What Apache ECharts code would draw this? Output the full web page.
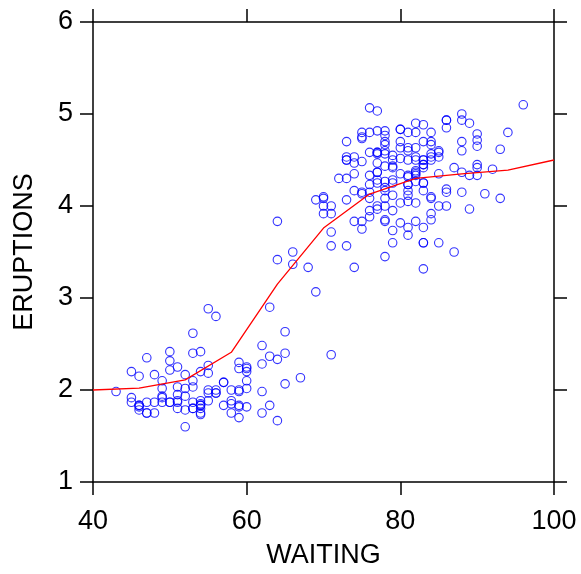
<!DOCTYPE html>
<html>
<head>
<meta charset="utf-8">
<script src="https://cdn.jsdelivr.net/npm/echarts@6/dist/echarts.min.js"></script>
<style>
  html, body { margin: 0; padding: 0; background: #fff; }
  #chart { width: 581px; height: 574px; }
</style>
</head>
<body>
<div id="chart"></div>
<script>
// Old Faithful: waiting time (min) and eruption duration (min)
var waiting = [79,54,74,62,85,55,88,85,51,85,54,84,78,47,83,52,62,84,52,79,51,47,78,69,
  74,83,55,76,78,79,73,77,66,80,74,52,48,80,59,90,80,58,84,58,73,83,64,53,
  82,59,75,90,54,80,54,83,71,64,77,81,59,84,48,82,60,92,78,78,65,73,82,56,
  79,71,62,76,60,78,76,83,75,82,70,65,73,88,76,80,48,86,60,90,50,78,63,72,
  84,75,51,82,62,88,49,83,81,47,84,52,86,81,75,59,89,79,59,81,50,85,59,87,
  53,69,77,56,88,81,45,82,55,90,45,83,56,89,46,82,51,86,53,79,81,60,82,77,
  76,59,80,49,96,53,77,77,65,81,71,70,81,93,53,89,45,86,58,78,66,76,63,88,
  52,93,49,57,77,68,81,81,73,50,85,74,55,77,83,83,51,78,84,46,83,55,81,57,
  76,84,77,81,87,77,51,78,60,82,91,53,78,46,77,84,49,83,71,80,49,75,64,76,
  53,94,55,76,50,82,54,75,78,79,78,78,70,79,70,54,86,50,90,54,54,77,79,64,
  75,47,86,63,85,82,57,82,67,74,54,83,73,73,88,80,71,83,56,79,78,84,58,83,
  43,60,75,81,46,90,46,74];

var eruptions = [3.600,1.800,3.333,2.283,4.533,2.883,4.700,3.600,1.950,4.350,1.833,3.917,
  4.200,1.750,4.700,2.167,1.750,4.800,1.600,4.250,1.800,1.750,3.450,3.067,
  4.533,3.600,1.967,4.083,3.850,4.433,4.300,4.467,3.367,4.033,3.833,2.017,
  1.867,4.833,1.833,4.783,4.350,1.883,4.567,1.750,4.533,3.317,3.833,2.100,
  4.633,2.000,4.800,4.716,1.833,4.833,1.733,4.883,3.717,1.667,4.567,4.317,
  2.233,4.500,1.750,4.800,1.817,4.400,4.167,4.700,2.067,4.700,4.033,1.967,
  4.500,4.000,1.983,5.067,2.017,4.567,3.883,3.600,4.133,4.333,4.100,2.633,
  4.067,4.933,3.950,4.517,2.167,4.000,2.200,4.333,1.867,4.817,1.833,4.300,
  4.667,3.750,1.867,4.900,2.483,4.367,2.100,4.500,4.050,1.867,4.700,1.783,
  4.850,3.683,4.733,2.300,4.900,4.417,1.700,4.633,2.317,4.600,1.817,4.417,
  2.617,4.067,4.250,1.967,4.600,3.767,1.917,4.500,2.267,4.650,1.867,4.167,
  2.800,4.333,1.833,4.383,1.883,4.933,2.033,3.733,4.233,2.233,4.533,4.817,
  4.333,1.983,4.633,2.017,5.100,1.800,5.033,4.000,2.400,4.600,3.567,4.000,
  4.500,4.083,1.800,3.967,2.200,4.150,2.000,3.833,3.500,4.583,2.367,5.000,
  1.933,4.617,1.917,2.083,4.583,3.333,4.167,4.333,4.500,2.417,4.000,4.167,
  1.883,4.583,4.250,3.767,2.033,4.433,4.083,1.833,4.417,2.183,4.800,1.833,
  4.800,4.100,3.966,4.233,3.500,4.366,2.250,4.667,2.100,4.350,4.133,1.867,
  4.600,1.783,4.367,3.850,1.933,4.500,2.383,4.700,1.867,3.833,3.417,4.233,
  2.400,4.800,2.000,4.150,1.867,4.267,1.750,4.483,4.000,4.117,4.083,4.267,
  3.917,4.550,4.083,2.417,4.183,2.217,4.450,1.883,1.850,4.283,3.950,2.333,
  4.150,2.350,4.933,2.900,4.583,3.833,2.083,4.367,2.133,4.350,2.200,4.450,
  3.567,4.500,4.150,3.817,3.917,4.450,2.000,4.283,4.767,4.533,1.850,4.250,
  1.983,2.250,4.750,4.117,2.150,4.417,1.817,4.467];

// smoothed curve
var smoothX = [40, 46, 52, 58, 64, 70, 76, 82, 88, 94, 100];
var smoothY = [2.00, 2.02, 2.11, 2.41, 3.15, 3.76, 4.13, 4.30, 4.35, 4.39, 4.50];

var xTicks = {min: 40, max: 100, interval: 20};
var yTicks = {min: 1, max: 6, interval: 1};

var points = [];
for (var i = 0; i < waiting.length; i++) {
  points.push([waiting[i], eruptions[i]]);
}
var curve = [];
for (var j = 0; j < smoothX.length; j++) {
  curve.push([smoothX[j], smoothY[j]]);
}

var font = 'Liberation Sans, Arial, sans-serif';

function axisBase(extra) {
  var base = {
    type: 'value',
    splitLine: {show: false},
    axisLine: {show: true, onZero: false, lineStyle: {color: '#000', width: 1.5}},
    axisTick: {show: true, inside: false, length: 13, lineStyle: {color: '#000', width: 1.5}},
    axisLabel: {show: false}
  };
  return Object.assign(base, extra);
}

var option = {
  animation: false,
  backgroundColor: '#fff',
  grid: {left: 93, right: 27, top: 22, bottom: 90},
  xAxis: [
    axisBase({
      position: 'bottom', min: xTicks.min, max: xTicks.max, interval: xTicks.interval,
      name: 'WAITING', nameLocation: 'middle', nameGap: 60,
      nameTextStyle: {color: '#000', fontSize: 27, fontFamily: font},
      axisLabel: {show: true, margin: 26, color: '#000', fontSize: 27, fontFamily: font}
    }),
    axisBase({position: 'top', min: xTicks.min, max: xTicks.max, interval: xTicks.interval})
  ],
  yAxis: [
    axisBase({
      position: 'left', min: yTicks.min, max: yTicks.max, interval: yTicks.interval,
      name: 'ERUPTIONS', nameLocation: 'middle', nameGap: 55,
      nameTextStyle: {color: '#000', fontSize: 27, fontFamily: font},
      axisLabel: {show: true, margin: 20, color: '#000', fontSize: 27, fontFamily: font}
    }),
    axisBase({position: 'right', min: yTicks.min, max: yTicks.max, interval: yTicks.interval})
  ],
  series: [
    {
      type: 'scatter',
      data: points,
      symbol: 'circle',
      symbolSize: 8.5,
      itemStyle: {color: 'rgba(0,0,0,0)', borderColor: '#0000ff', borderWidth: 1.1}
    },
    {
      type: 'line',
      data: curve,
      showSymbol: false,
      symbol: 'none',
      lineStyle: {color: '#ff0000', width: 1.3},
      z: 3
    }
  ]
};

var myChart = echarts.init(document.getElementById('chart'));
myChart.setOption(option);
</script>
</body>
</html>
